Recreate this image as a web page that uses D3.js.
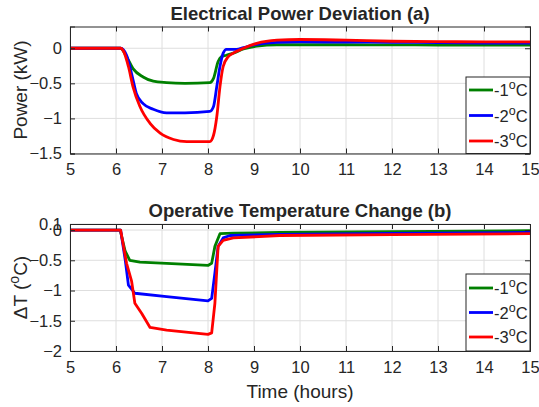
<!DOCTYPE html>
<html>
<head>
<meta charset="utf-8">
<script src="https://cdn.jsdelivr.net/npm/d3@7"></script>
<style>
  body { margin: 0; background: #fff; }
  svg text { font-family: "Liberation Sans", Arial, sans-serif; fill: #262626; }
</style>
</head>
<body>
<svg id="chart"></svg>
<script>
'use strict';

// series labels and colours
var seriesNames = ["-1", "-2", "-3"];
var seriesColors = ["#008000", "#0000ff", "#ff0000"];

// (a) electrical power deviation, kW
var powerTime1 = [5, 6.1, 6.23, 6.37, 6.59, 6.81, 7.1, 7.5, 8.04, 8.12, 8.22, 8.29, 8.4, 8.55, 8.77, 9.06, 9.5, 10, 11, 12, 13, 14, 15];
var powerVals1 = [0, 0, -0.12, -0.29, -0.41, -0.47, -0.49, -0.5, -0.49, -0.43, -0.19, -0.12, -0.1, -0.07, -0.01, 0.03, 0.05, 0.05, 0.05, 0.048, 0.046, 0.045, 0.045];
var powerTime2 = [5, 6.1, 6.23, 6.37, 6.44, 6.59, 6.81, 7.1, 7.5, 8.04, 8.12, 8.19, 8.26, 8.33, 8.4, 8.62, 8.77, 9.06, 9.5, 10, 11, 12, 13, 14, 15];
var powerVals2 = [0, 0, -0.1, -0.45, -0.64, -0.79, -0.87, -0.92, -0.92, -0.9, -0.83, -0.55, -0.26, -0.07, -0.015, -0.015, 0.01, 0.057, 0.085, 0.09, 0.088, 0.085, 0.08, 0.075, 0.072];
var powerTime3 = [5, 6.1, 6.17, 6.27, 6.37, 6.52, 6.74, 6.96, 7.25, 7.54, 8.04, 8.12, 8.19, 8.26, 8.33, 8.44, 8.55, 8.77, 9.06, 9.5, 10, 11, 12, 13, 14, 15];
var powerVals3 = [0, 0, -0.05, -0.26, -0.55, -0.83, -1.07, -1.21, -1.3, -1.33, -1.33, -1.24, -0.98, -0.55, -0.26, -0.12, -0.07, 0, 0.07, 0.115, 0.125, 0.115, 0.1, 0.095, 0.09, 0.09];

// (b) operative temperature change, degC
var tempTime1 = [5, 6.09, 6.2, 6.3, 6.52, 7.1, 8.0, 8.08, 8.15, 8.26, 8.55, 9.56, 12, 15];
var tempVals1 = [0, 0, -0.35, -0.5, -0.53, -0.55, -0.585, -0.55, -0.27, -0.06, -0.05, -0.04, -0.025, -0.01];
var tempTime2 = [5, 6.1, 6.2, 6.27, 6.41, 7.1, 8.0, 8.08, 8.15, 8.22, 8.33, 8.48, 9.56, 12, 15];
var tempVals2 = [0, 0, -0.49, -0.91, -1.045, -1.1, -1.17, -1.13, -0.71, -0.27, -0.13, -0.09, -0.07, -0.055, -0.04];
var tempTime3 = [5, 6.1, 6.23, 6.34, 6.41, 6.56, 6.74, 7.1, 8.0, 8.08, 8.15, 8.22, 8.33, 8.55, 9.56, 12, 15];
var tempVals3 = [0, 0, -0.55, -0.85, -1.21, -1.38, -1.61, -1.655, -1.725, -1.7, -1.21, -0.27, -0.17, -0.13, -0.09, -0.075, -0.06];

var xTicks = [5, 6, 7, 8, 9, 10, 11, 12, 13, 14, 15];
var powerTicks = [-1.5, -1, -0.5, 0];
var tempTicks = [-2, -1.5, -1, -0.5, 0, 0.1];

function zip(ts, vs) {
    return ts.map(function(t, i) { return [t, vs[i]]; });
}

var width = 539,
    height = 407;

var svg = d3.select("#chart")
    .attr("width", width)
    .attr("height", height);

function drawPanel(opts) {
    var left = 70, right = 530;
    var x = d3.scaleLinear().domain([5, 15]).range([left, right]);
    var y = d3.scaleLinear().domain(opts.yDomain).range([opts.bottom, opts.top]);

    var g = svg.append("g");

    // grid
    g.selectAll(".vgrid").data(xTicks).enter().append("line")
        .attr("x1", function(d) { return x(d); }).attr("x2", function(d) { return x(d); })
        .attr("y1", opts.top).attr("y2", opts.bottom)
        .attr("stroke", "#dedede").attr("stroke-width", 1);
    g.selectAll(".hgrid").data(opts.yTicks).enter().append("line")
        .attr("x1", left).attr("x2", right)
        .attr("y1", function(d) { return y(d); }).attr("y2", function(d) { return y(d); })
        .attr("stroke", "#dedede").attr("stroke-width", 1);

    // lines
    var line = d3.line()
        .x(function(d) { return x(d[0]); })
        .y(function(d) { return y(d[1]); })
        .curve(opts.curve);

    opts.series.forEach(function(s, i) {
        g.append("path")
            .datum(s)
            .attr("d", line)
            .attr("fill", "none")
            .attr("stroke", seriesColors[i])
            .attr("stroke-width", 2.8)
            .attr("stroke-linejoin", "round");
    });

    // axes with mirrored ticks (box on)
    var fmt = function(d) { return d3.format("")(d); };
    var xAxis = g.append("g").attr("transform", "translate(0," + opts.bottom + ")")
        .call(d3.axisBottom(x).tickValues(xTicks).tickSize(-5).tickPadding(10).tickFormat(fmt));
    var xTop = g.append("g").attr("transform", "translate(0," + opts.top + ")")
        .call(d3.axisTop(x).tickValues(xTicks).tickSize(-5).tickFormat(""));
    var yAxis = g.append("g").attr("transform", "translate(" + left + ",0)")
        .call(d3.axisLeft(y).tickValues(opts.yTicks).tickSize(-5).tickPadding(8).tickFormat(fmt));
    var yRight = g.append("g").attr("transform", "translate(" + right + ",0)")
        .call(d3.axisRight(y).tickValues(opts.yTicks).tickSize(-5).tickFormat(""));

    [xAxis, xTop, yAxis, yRight].forEach(function(a) {
        a.select(".domain").attr("stroke", "#262626");
        a.selectAll(".tick line").attr("stroke", "#262626");
        a.selectAll("text").style("font-size", "16.5px")
            .style("font-family", "'Liberation Sans', Arial, sans-serif")
            .attr("fill", "#262626");
    });

    // title
    g.append("text")
        .attr("x", 300)
        .attr("y", opts.top - 7)
        .attr("text-anchor", "middle")
        .style("font-size", "18.5px")
        .style("font-weight", "bold")
        .attr("fill", "#000")
        .text(opts.title);

    // y label
    var yl = g.append("text")
        .attr("transform", "translate(27," + (opts.top + opts.bottom) / 2 + ") rotate(-90)")
        .attr("text-anchor", "middle")
        .style("font-size", "19px");
    opts.ylabel(yl);

    // legend
    var lg = g.append("g").attr("transform", "translate(466," + opts.legendTop + ")");
    lg.append("rect")
        .attr("width", 64).attr("height", opts.bottom - opts.legendTop)
        .attr("fill", "#fff").attr("stroke", "#262626").attr("stroke-width", 1);
    seriesNames.forEach(function(name, i) {
        var cy = opts.legendRow0 + i * opts.legendStep;
        lg.append("line")
            .attr("x1", 3).attr("x2", 27)
            .attr("y1", cy).attr("y2", cy)
            .attr("stroke", seriesColors[i]).attr("stroke-width", 2.8);
        var t = lg.append("text")
            .attr("x", 28).attr("y", cy + 6)
            .style("font-size", "16.5px");
        t.append("tspan").text(name);
        t.append("tspan").attr("dy", -7).style("font-size", "12.5px").text("o");
        t.append("tspan").attr("dy", 7).text("C");
    });
}

drawPanel({
    top: 26.5, bottom: 153.5,
    yDomain: [-1.5, 0.31],
    yTicks: powerTicks,
    curve: d3.curveMonotoneX,
    series: [zip(powerTime1, powerVals1), zip(powerTime2, powerVals2), zip(powerTime3, powerVals3)],
    title: "Electrical Power Deviation (a)",
    ylabel: function(t) { t.text("Power (kW)"); },
    legendTop: 77, legendRow0: 13, legendStep: 25.5
});

drawPanel({
    top: 224, bottom: 351,
    yDomain: [-2, 0.1],
    yTicks: tempTicks,
    curve: d3.curveLinear,
    series: [zip(tempTime1, tempVals1), zip(tempTime2, tempVals2), zip(tempTime3, tempVals3)],
    title: "Operative Temperature Change (b)",
    ylabel: function(t) {
        t.append("tspan").text("\u0394T (");
        t.append("tspan").attr("dy", -8).style("font-size", "14px").text("o");
        t.append("tspan").attr("dy", 8).text("C)");
    },
    legendTop: 274, legendRow0: 14, legendStep: 24.5
});

// shared x label
svg.append("text")
    .attr("x", 300)
    .attr("y", 398)
    .attr("text-anchor", "middle")
    .style("font-size", "19px")
    .text("Time (hours)");
</script>
</body>
</html>
